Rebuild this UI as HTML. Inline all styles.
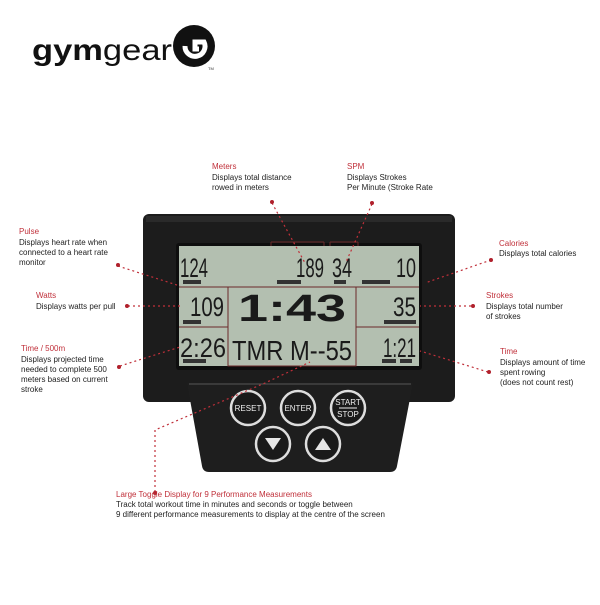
<!DOCTYPE html>
<html><head><meta charset="utf-8"><style>
body{margin:0;width:600px;height:600px;background:#fff;overflow:hidden;font-family:"Liberation Sans",sans-serif}
</style></head><body>
<svg width="600" height="600" viewBox="0 0 600 600" xmlns="http://www.w3.org/2000/svg" font-family="Liberation Sans, sans-serif">
<!-- logo -->
<text x="32" y="60" font-size="30" font-weight="bold" fill="#111" textLength="140" lengthAdjust="spacingAndGlyphs">gym<tspan font-weight="normal">gear</tspan></text>
<circle cx="194" cy="46" r="21" fill="#111"/>
<path d="M185 46 a10 10 0 1 0 19 -4 h-9 v7 h4" stroke="#fff" stroke-width="5" fill="none"/>
<text x="208" y="70" font-size="4" fill="#333">TM</text>

<!-- housing -->
<rect x="143" y="214" width="312" height="188" rx="6" fill="#1c1c1c"/>
<rect x="146" y="216" width="306" height="6" fill="#2a2a2a"/>
<rect x="176" y="243" width="246" height="127" rx="3" fill="#0e0e0e"/>
<!-- lcd -->
<rect x="179" y="246" width="240" height="120" fill="#b3bfb0"/>
<g stroke="#6b2a2a" stroke-width="1" fill="none">
<line x1="179" y1="287" x2="419" y2="287"/>
<line x1="179" y1="327" x2="228" y2="327"/>
<line x1="356" y1="327" x2="419" y2="327"/>
<rect x="228" y="287" width="128" height="79"/>
<line x1="271" y1="246" x2="271" y2="242"/><line x1="271" y1="242" x2="324" y2="242"/><line x1="324" y1="242" x2="324" y2="246"/>
<line x1="330" y1="246" x2="330" y2="242"/><line x1="330" y1="242" x2="358" y2="242"/><line x1="358" y1="242" x2="358" y2="246"/>
</g>
<g fill="#1a1a1a" font-size="27" lengthAdjust="spacingAndGlyphs">
<text x="180" y="277" textLength="28" lengthAdjust="spacingAndGlyphs">124</text>
<text x="296" y="277" textLength="28" lengthAdjust="spacingAndGlyphs">189</text>
<text x="332" y="277" textLength="20" lengthAdjust="spacingAndGlyphs">34</text>
<text x="396" y="277" textLength="20" lengthAdjust="spacingAndGlyphs">10</text>
<text x="190" y="316" textLength="34" lengthAdjust="spacingAndGlyphs">109</text>
<text x="393" y="316" textLength="23" lengthAdjust="spacingAndGlyphs">35</text>
<text x="180" y="357" textLength="46" lengthAdjust="spacingAndGlyphs">2:26</text>
<text x="383" y="357" textLength="33" lengthAdjust="spacingAndGlyphs">1:21</text>
<text x="238" y="321" font-size="38" font-weight="bold" textLength="108" lengthAdjust="spacingAndGlyphs">1:43</text>
<text x="232" y="360" font-size="28" textLength="120" lengthAdjust="spacingAndGlyphs">TMR  M--55</text>
</g>
<g fill="#333"><rect x="183" y="280" width="18" height="4"/><rect x="277" y="280" width="24" height="4"/><rect x="334" y="280" width="12" height="4"/><rect x="362" y="280" width="28" height="4"/>
<rect x="183" y="320" width="18" height="4"/><rect x="384" y="320" width="32" height="4"/><rect x="183" y="359" width="23" height="4"/><rect x="382" y="359" width="14" height="4"/><rect x="400" y="359" width="12" height="4"/></g>
<!-- keypad -->
<path d="M187 383 L413 383 L397 466 Q396 472 390 472 L209 472 Q203 472 202 466 Z" fill="#1e1e1e"/>
<line x1="189" y1="384" x2="411" y2="384" stroke="#555" stroke-width="1"/>
<g stroke="#ddd" stroke-width="2.5" fill="#1a1a1a">
<circle cx="248" cy="408" r="17"/><circle cx="298" cy="408" r="17"/><circle cx="348" cy="408" r="17"/>
<circle cx="273" cy="444" r="17"/><circle cx="323" cy="444" r="17"/></g>
<g fill="#eee" font-size="8" text-anchor="middle">
<text x="248" y="411">RESET</text><text x="298" y="411">ENTER</text>
<text x="348" y="405">START</text><text x="348" y="417">STOP</text></g>
<line x1="339" y1="408" x2="357" y2="408" stroke="#eee" stroke-width="1"/>
<path d="M265 438 h16 l-8 12 z M315 450 h16 l-8 -12 z" fill="#e6e6e6"/>

<!-- connectors -->
<g stroke="#c0303a" stroke-width="1.2" stroke-dasharray="2,3" fill="none">
<path d="M272 203 L305 263"/><path d="M372 204 L346 262"/>
<path d="M118 266 L180 286"/><path d="M491 260 L425 283"/>
<path d="M128 306 L180 306"/><path d="M471 306 L420 306"/>
<path d="M120 366 L180 347"/><path d="M488 372 L420 351"/>
<path d="M155 492 L155 430 L265 383 L310 362"/>
</g>
<g fill="#b0202c"><circle cx="272" cy="202" r="2"/><circle cx="372" cy="203" r="2"/><circle cx="118" cy="265" r="2"/><circle cx="491" cy="260" r="2"/>
<circle cx="127" cy="306" r="2"/><circle cx="473" cy="306" r="2"/><circle cx="119" cy="367" r="2"/><circle cx="489" cy="372" r="2"/><circle cx="155" cy="493" r="2"/></g>

<!-- labels -->
<g font-size="8" fill="#222">
<text x="212" y="169" fill="#c0303a">Meters</text><text x="212" y="180">Displays total distance</text><text x="212" y="190">rowed in meters</text>
<text x="347" y="169" fill="#c0303a">SPM</text><text x="347" y="180">Displays Strokes</text><text x="347" y="190">Per Minute (Stroke Rate</text>
<text x="19" y="234" fill="#c0303a">Pulse</text><text x="19" y="245">Displays heart rate when</text><text x="19" y="255">connected to a heart rate</text><text x="19" y="265">monitor</text>
<text x="499" y="246" fill="#c0303a">Calories</text><text x="499" y="256">Displays total calories</text>
<text x="36" y="298" fill="#c0303a">Watts</text><text x="36" y="309">Displays watts per pull</text>
<text x="486" y="298" fill="#c0303a">Strokes</text><text x="486" y="309">Displays total number</text><text x="486" y="319">of strokes</text>
<text x="21" y="351" fill="#c0303a">Time / 500m</text><text x="21" y="362">Displays projected time</text><text x="21" y="372">needed to complete 500</text><text x="21" y="382">meters based on current</text><text x="21" y="392">stroke</text>
<text x="500" y="354" fill="#c0303a">Time</text><text x="500" y="365">Displays amount of time</text><text x="500" y="375">spent rowing</text><text x="500" y="385">(does not count rest)</text>
<text x="116" y="497" fill="#c0303a">Large Toggle Display for 9 Performance Measurements</text>
<text x="116" y="507">Track total workout time in minutes and seconds or toggle between</text>
<text x="116" y="517">9 different performance measurements to display at the centre of the screen</text>
</g>
</svg>
</body></html>
